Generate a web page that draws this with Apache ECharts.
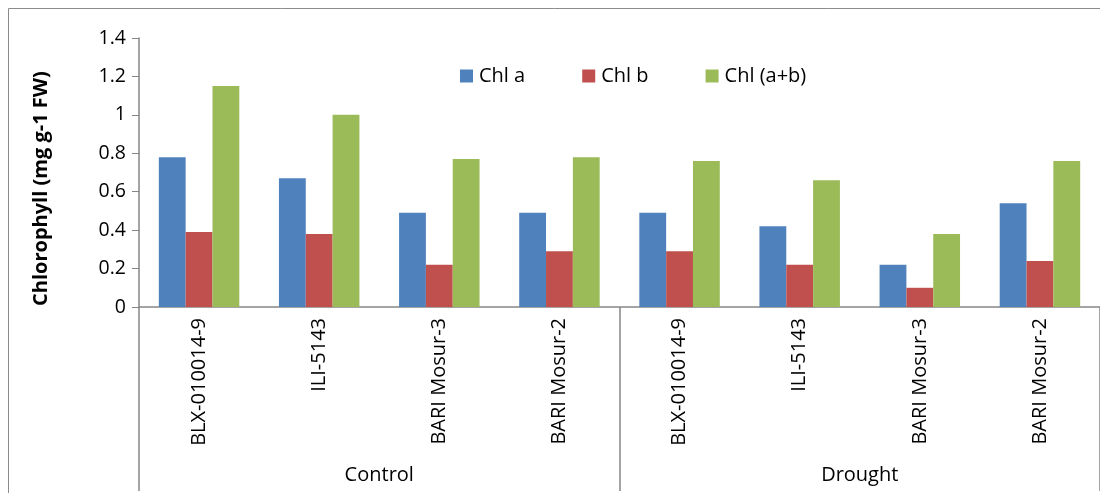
<!DOCTYPE html>
<html><head><meta charset="utf-8">
<script src="https://cdn.jsdelivr.net/npm/echarts@6/dist/echarts.min.js"></script>
<style>html,body{margin:0;padding:0;background:#fff}#c{width:1100px;height:493px}</style>
</head><body><div id="c"></div>
<script>
const categories = ['BLX-010014-9','ILI-5143','BARI Mosur-3','BARI Mosur-2','BLX-010014-9','ILI-5143','BARI Mosur-3','BARI Mosur-2'];
const groups = ['Control','Drought'];
const chlA = [0.78,0.67,0.49,0.49,0.49,0.42,0.22,0.54];
const chlB = [0.39,0.38,0.22,0.29,0.29,0.22,0.10,0.24];
const chlAB = [1.15,1.00,0.77,0.78,0.76,0.66,0.38,0.76];
const yTicks = [0,0.2,0.4,0.6,0.8,1,1.2,1.4];

const font = '"Open Sans", "Noto Sans", sans-serif';
const axisGray = '#868686';
const chart = echarts.init(document.getElementById('c'), null, {renderer:'canvas'});
chart.setOption({
  animation:false,
  textStyle:{fontFamily:font},
  graphic:[{type:'rect',shape:{x:8.5,y:8.5,width:1200,height:600},style:{fill:'none',stroke:'#8c8c8c',lineWidth:1},silent:true,z:-1}],
  legend:{
    left:455, top:61, itemWidth:13, itemHeight:13, itemGap:57,
    icon:'rect',
    textStyle:{fontFamily:font,fontSize:20,color:'#000',padding:[0,0,0,1]},
    data:['Chl a','Chl b','Chl (a+b)']
  },
  grid:{left:139,right:-4,top:38,bottom:186,containLabel:false},
  xAxis:[{
    type:'category', data:categories, position:'bottom',
    axisLine:{lineStyle:{color:axisGray,width:1.5}},
    axisTick:{show:false},
    axisLabel:{rotate:90,interval:0,margin:11,fontSize:20,color:'#000',fontFamily:font}
  },{
    type:'category', data:groups, position:'bottom', gridIndex:0,
    axisLine:{show:false},
    axisTick:{show:true,length:184,interval:0,lineStyle:{color:axisGray,width:1.5}},
    axisLabel:{interval:0,margin:158,fontSize:20,color:'#000',fontFamily:font}
  }],
  yAxis:{
    type:'value', min:0, max:1.4, interval:0.2,
    name:'Chlorophyll (mg g-1 FW)', nameLocation:'middle', nameGap:88,
    nameTextStyle:{fontFamily:font,fontSize:20,fontWeight:'bold',color:'#000',padding:[0,32,0,0]},
    axisLine:{show:true,lineStyle:{color:axisGray,width:1.5}},
    axisTick:{show:true,length:7,lineStyle:{color:axisGray}},
    splitLine:{show:false},
    axisLabel:{margin:13,fontSize:19.5,color:'#000',fontFamily:font,
      formatter:v=>{const t=yTicks.find(x=>Math.abs(x-v)<1e-9);return String(t!==undefined?t:v);}}
  },
  series:[
    {name:'Chl a',type:'bar',data:chlA,barGap:'0%',barCategoryGap:'33%',itemStyle:{color:'#4F81BD'}},
    {name:'Chl b',type:'bar',data:chlB,barGap:'0%',barCategoryGap:'33%',itemStyle:{color:'#C0504D'}},
    {name:'Chl (a+b)',type:'bar',data:chlAB,barGap:'0%',barCategoryGap:'33%',itemStyle:{color:'#9BBB59'}}
  ]
});
</script></body></html>
